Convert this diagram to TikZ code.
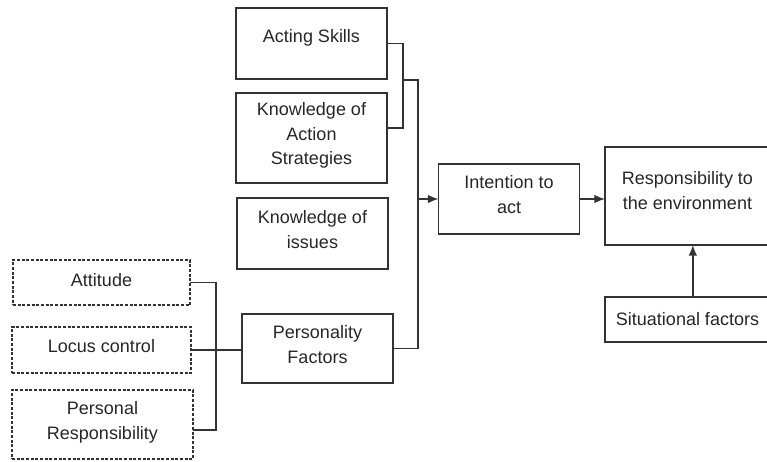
\documentclass[tikz,border=0pt]{standalone}
\usepackage{fontspec}
\setmainfont{Liberation Sans}
\usepackage{tikz}
\usetikzlibrary{positioning,arrows.meta}

\newcommand{\boxlift}{6.5pt}
\tikzset{
  lift/.code={\renewcommand{\boxlift}{#1}},
  box/.style={draw=black!80, line width=1.2pt, rectangle, align=center,
    inner sep=0pt, outer sep=0pt, text=black!85, font=\fontsize{13.5}{18.5}\selectfont,
    execute at end node={\rule[-\boxlift]{0pt}{\boxlift}}},
  dbox/.style={box, dash pattern=on 2.2pt off 1.3pt},
  link/.style={draw=black!80, line width=1.2pt},
}

\begin{document}
\begin{tikzpicture}[x=0.75pt, y=-0.75pt, >={Latex[length=8pt,width=6.5pt]}]
  \useasboundingbox (0,0) rectangle (767,461);

  % knowledge and skills column
  \node (act) [box, lift=11pt, minimum width=113.25pt, minimum height=53.25pt] at (311.5,43.5) {Acting Skills};
  \node (strat) [box, minimum width=113.25pt, minimum height=67.5pt] at (311.5,138) {Knowledge of\\Action\\Strategies};
  \node (issues) [box, minimum width=113.25pt, minimum height=53.25pt] at (312.5,233.5) {Knowledge of\\issues};
  \node (pers) [box, minimum width=113.25pt, minimum height=51.75pt] at (317.5,348.5) {Personality\\Factors};

  % personality variables (dashed)
  \node (att) [dbox, lift=4pt, minimum width=132.75pt, minimum height=33.75pt] at (101.5,282.5) {Attitude};
  \node (locus) [dbox, minimum width=134.25pt, minimum height=34.5pt] at (101.5,350) {Locus control};
  \node (presp) [dbox, minimum width=135.75pt, minimum height=51.75pt] at (102.5,424.5) {Personal\\Responsibility};

  % right part
  \node (intent) [box, minimum width=105.75pt, minimum height=52.5pt] at (509,199) {Intention to\\act};
  \node (resp) [box, lift=8pt, minimum width=123.75pt, minimum height=73.5pt] at (687.5,196) {Responsibility to\\the environment};
  \node (sit) [box, lift=0pt, minimum width=123.75pt, minimum height=33.75pt] at (687.5,319.5) {Situational factors};

  % brackets
  \coordinate (lj) at (216,0);
  \coordinate (pb) at ([yshift=-4pt]presp.east);
  \draw[link] (att.east) -| (lj |- pb) -- (pb);
  \draw[link] (locus.east) -- (locus.east -| pers.west);

  \coordinate (tj) at (403,0);
  \coordinate (ks) at ([yshift=7.5pt]strat.east);
  \draw[link] (act.east) -| (tj |- ks) -- (ks);

  \coordinate (sp) at (418,80);
  \draw[link] (tj |- sp) -- (sp) |- (pers.east);

  % arrows
  \draw[link, ->] (sp |- intent.west) -- (intent.west);
  \draw[link, ->] (intent.east) -- (resp.west |- intent.east);
  \coordinate (sa) at ([xshift=4pt]sit.north);
  \draw[link, ->] (sa) -- (sa |- resp.south);
\end{tikzpicture}
\end{document}
